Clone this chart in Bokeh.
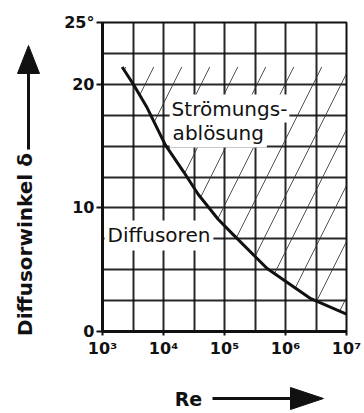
import math
from bokeh.plotting import figure
from bokeh.layouts import row, column
from bokeh.models import FixedTicker, Label
from bokeh.core.properties import value
from bokeh.embed import file_html
from bokeh.resources import INLINE

# ---- data ----
re_vals = [2.1e3, 3.2e3, 5.4e3, 1.07e4, 2.15e4, 3.7e4, 7.8e4, 1.35e5, 5.0e5, 2.6e6, 1.0e7]
angle_vals = [21.4, 20.0, 18.1, 15.1, 12.9, 11.1, 9.1, 7.9, 5.1, 2.65, 1.4]
hatch_top = 21.4
x_ticks = [10**3, 10**4, 10**5, 10**6, 10**7]
x_tick_labels = ["10³", "10⁴", "10⁵", "10⁶", "10⁷"]
y_ticks = [0, 10, 20, 25]
y_tick_labels = ["0", "10", "20", "25°"]
x_grid = [10 ** (3 + 0.5 * i) for i in range(9)]
y_grid = [2.5 * i for i in range(11)]
y_title = "Diffusorwinkel δ"
x_title = "Re"

FONT = "DejaVu Sans"
INK = "#111111"


def blank_fig(w, h, xr, yr):
    f = figure(width=w, height=h, x_range=xr, y_range=yr, output_backend="svg",
               toolbar_location=None, x_axis_location=None, y_axis_location=None,
               min_border=0, min_border_left=0, min_border_right=0, min_border_top=0, min_border_bottom=0)
    f.grid.visible = False
    f.outline_line_color = None
    f.background_fill_color = "white"
    f.border_fill_color = "white"
    return f


# ---- main chart ----
p = figure(width=304, height=360, x_axis_type="log", x_range=(1e3, 1e7), y_range=(0, 25),
           output_backend="svg", toolbar_location=None,
           min_border_left=42, min_border_right=18, min_border_top=22, min_border_bottom=29)
p.background_fill_color = "white"
p.border_fill_color = "white"
p.outline_line_color = INK
p.outline_line_width = 2

p.xgrid.ticker = FixedTicker(ticks=x_grid)
p.ygrid.ticker = FixedTicker(ticks=y_grid)
for g in (p.xgrid, p.ygrid):
    g.grid_line_color = INK
    g.grid_line_width = 2
    g.grid_line_alpha = 0.9

p.xaxis.ticker = FixedTicker(ticks=x_ticks)
p.xaxis.major_label_overrides = {t: l for t, l in zip(x_ticks, x_tick_labels)}
p.yaxis.ticker = FixedTicker(ticks=y_ticks)
p.yaxis.major_label_overrides = {t: l for t, l in zip(y_ticks, y_tick_labels)}
for ax in (p.xaxis, p.yaxis):
    ax.axis_line_width = 3
    ax.axis_line_color = INK
    ax.major_tick_line_color = INK
    ax.major_tick_line_width = 2
    ax.major_tick_in = 0
    ax.minor_tick_line_color = None
    ax.major_label_text_font = FONT
    ax.major_label_text_font_size = "16px"
    ax.major_label_text_font_style = "bold"
    ax.major_label_text_color = INK
p.yaxis.major_tick_out = 6
p.yaxis.major_label_standoff = 2
p.xaxis.major_tick_out = 4
p.xaxis.major_label_standoff = 3

# hatched region (flow separation)
hx = list(re_vals) + [re_vals[-1], re_vals[0]]
hy = list(angle_vals) + [hatch_top, hatch_top]
p.patch(hx, hy, fill_alpha=0, line_color=None, hatch_pattern="/", hatch_scale=56,
        hatch_weight=1, hatch_color="#333333", hatch_alpha=0.85)

# curve
p.line(re_vals, angle_vals, line_color=INK, line_width=3)

# region labels ("ablösung" first so the line above it stays fully visible)
for txt, xv, yv, pad in [("ablösung", 1.26e4, 16.1, 3), ("Strömungs-", 1.26e4, 18.04, 2),
                         ("Diffusoren", 1.08e3, 7.77, 3)]:
    p.add_layout(Label(x=xv, y=yv, text=txt, text_font=FONT, text_font_size="20px",
                       text_color=INK, text_baseline="alphabetic", text_align="left",
                       background_fill_color="white", padding=pad))

# ---- left strip: y title with arrow (page pixel coordinates, y up) ----
L = blank_fig(60, 413, (0, 60), (0, 413))
L.text(x=[24], y=[169], text=[y_title], angle=math.pi / 2, text_font=value(FONT),
       text_font_size="20px", text_font_style="bold", text_color=INK,
       text_align="center", text_baseline="middle")
L.segment(x0=[28], y0=[264], x1=[28], y1=[342], line_width=3, line_color=INK)
L.patch([17, 39, 28], [340, 340, 368], fill_color=INK, line_color=INK)

# ---- bottom strip: x title with arrow (frame aligned with chart frame: page x 102..346) ----
B = blank_fig(304, 53, (102, 346), (0, 53))
B.text(x=[188], y=[15], text=[x_title], text_font=value(FONT), text_font_size="19px",
       text_font_style="bold", text_color=INK, text_align="center", text_baseline="middle")
B.segment(x0=[212], y0=[15], x1=[293], y1=[15], line_width=3, line_color=INK)
B.patch([290, 290, 323], [4, 26, 15], fill_color=INK, line_color=INK)

layout = row(L, column(p, B, spacing=0), spacing=0)
open("out.html", "w").write(file_html(layout, INLINE))
